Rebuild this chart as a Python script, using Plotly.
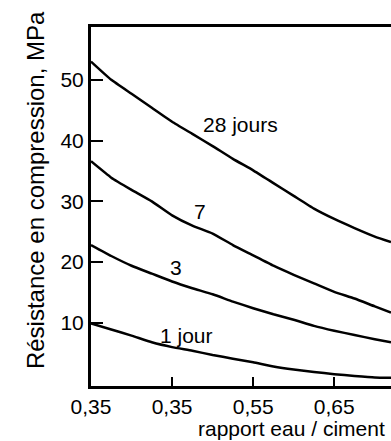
import plotly.graph_objects as go

# water/cement ratio sample positions
ratio = [0.35, 0.375, 0.40, 0.425, 0.45, 0.475, 0.50, 0.525, 0.55, 0.575,
         0.60, 0.625, 0.65, 0.675, 0.70, 0.72]

# compressive strength, MPa
j28 = [53.0, 50.0, 47.7, 45.4, 43.1, 41.1, 39.1, 37.0, 35.1, 33.0,
       30.9, 28.8, 27.1, 25.6, 24.2, 23.3]
j7 = [36.6, 33.9, 31.9, 30.0, 27.7, 26.0, 24.7, 22.8, 21.1, 19.4,
      17.9, 16.5, 15.1, 14.0, 12.7, 11.7]
j3 = [22.8, 21.0, 19.4, 18.1, 16.8, 15.7, 14.7, 13.5, 12.4, 11.4,
      10.5, 9.5, 8.7, 8.0, 7.3, 6.8]
j1 = [9.9, 8.9, 7.9, 6.8, 6.0, 5.4, 4.7, 4.1, 3.5, 2.8,
      2.3, 1.9, 1.55, 1.25, 1.0, 0.95]

x_tickvals = [0.35, 0.45, 0.55, 0.65]
x_ticktext = ["0,35", "0,35", "0,55", "0,65"]
y_tickvals = [10, 20, 30, 40, 50]

FONT = "Liberation Sans, Arial, sans-serif"

fig = go.Figure()
for ys in (j28, j7, j3, j1):
    fig.add_trace(go.Scatter(x=ratio, y=ys, mode="lines",
                             line=dict(color="black", width=2.5, shape="spline", smoothing=0.4),
                             showlegend=False, hoverinfo="skip"))

labels = [("28 jours", 0.534, 42.6), ("7", 0.484, 28.3), ("3", 0.455, 19.1), ("1 jour", 0.468, 7.9)]
for txt, x, y in labels:
    fig.add_annotation(x=x, y=y, text=txt, showarrow=False,
                       font=dict(family=FONT, size=21, color="black"))

fig.add_annotation(xref="paper", yref="paper", x=0.987, y=-0.118, xanchor="right", yanchor="middle",
                   text="rapport eau / ciment", showarrow=False,
                   font=dict(family=FONT, size=21, color="black"))
fig.add_annotation(xref="paper", yref="paper", x=-0.183, y=0.546, xanchor="center", yanchor="middle",
                   text="Résistance en compression, MPa", textangle=-90, showarrow=False,
                   font=dict(family=FONT, size=24, color="black"))

fig.update_layout(
    width=391, height=441,
    margin=dict(l=91, r=0, t=27, b=55),
    paper_bgcolor="white", plot_bgcolor="white",
    font=dict(family=FONT, size=21, color="black"),
    xaxis=dict(range=[0.35, 0.72], showgrid=False, zeroline=False,
               showline=True, linecolor="black", linewidth=3, mirror=True,
               ticks="inside", ticklen=9, tickwidth=2, tickcolor="black",
               tickvals=x_tickvals, ticktext=x_ticktext,
               tickfont=dict(family=FONT, size=21, color="black")),
    yaxis=dict(range=[-0.4, 58.7], showgrid=False, zeroline=False,
               showline=True, linecolor="black", linewidth=3, mirror=False,
               ticks="inside", ticklen=12, tickwidth=2, tickcolor="black",
               tickvals=y_tickvals,
               tickfont=dict(family=FONT, size=21, color="black")),
)

fig.write_html("out.html", config={"displayModeBar": False, "staticPlot": True},
               post_script="document.body.style.margin='0px';document.body.style.overflow='hidden';")
